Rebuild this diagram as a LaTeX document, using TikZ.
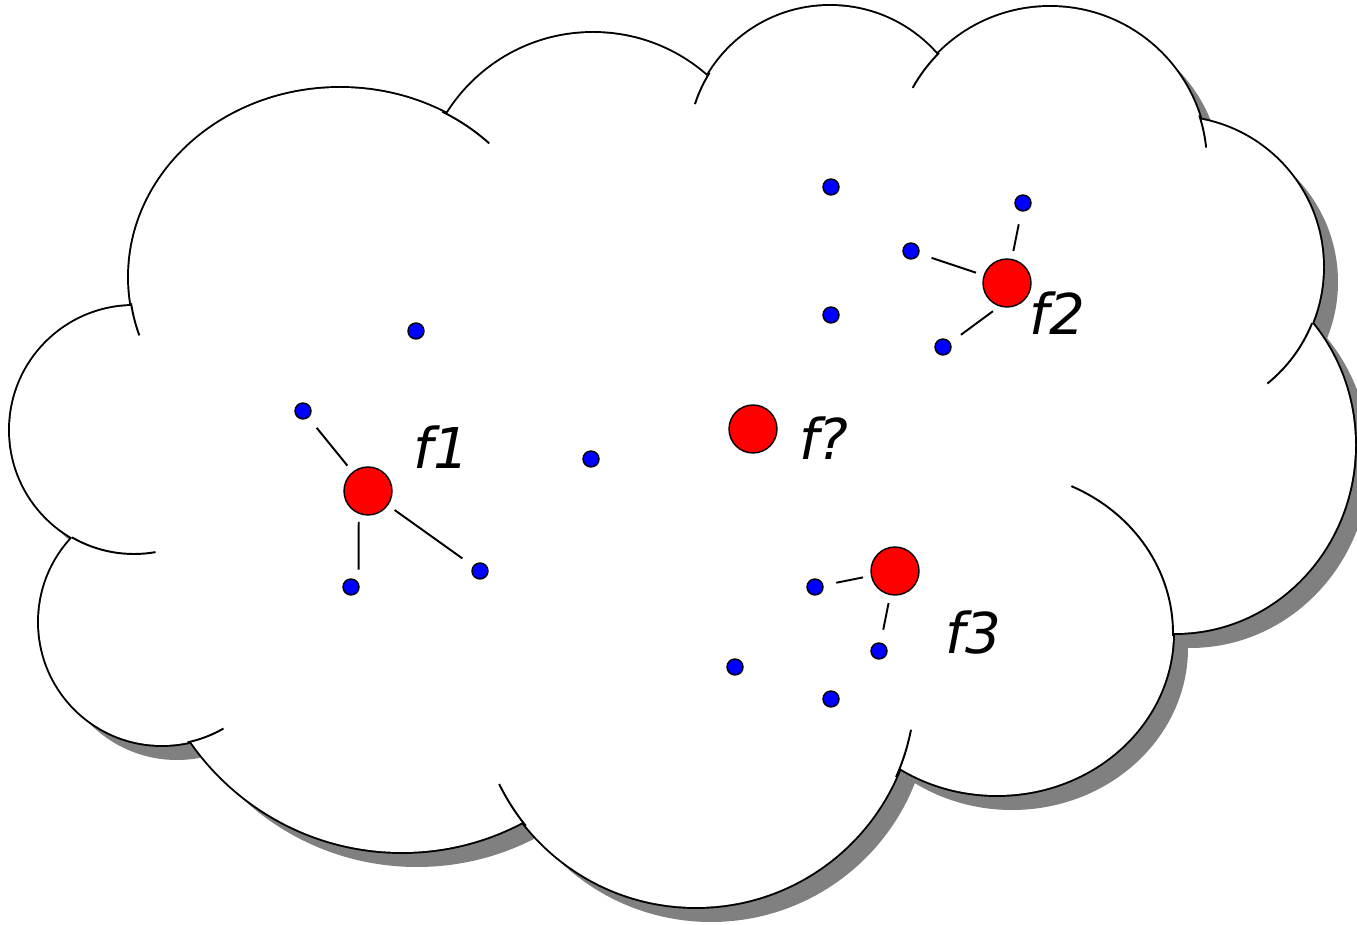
\documentclass[tikz,border=0pt]{standalone}
\usepackage{fontspec}
\setmainfont{DejaVu Sans}

% bumps of the cloud: centre x / centre y / x radius / y radius
\newcommand{\bumps}{134/430/124/124, 340/277/211/189, 593/205/172/172,
  830/148/142/142, 1050/164/157/157, 1173/267/150/150, 1175/445/180/188,
  997/633/176/162, 696/688/219/219, 402/595/257/257, 162/622/123/123}

\begin{document}
\begin{tikzpicture}[x=0.02cm, y=-0.02cm,
    hub/.style = {draw, circle, fill=red, line width=0.8pt, minimum size=0.96cm, inner sep=0pt},
    site/.style = {draw, circle, fill=blue, line width=0.8pt, minimum size=0.32cm, inner sep=0pt},
    lbl/.style = {inner sep=0pt, font=\fontsize{32}{38}\selectfont\itshape},
    link/.style = {line width=1.1pt, shorten <=0.16cm, shorten >=0.26cm}]
    \useasboundingbox (0,0) rectangle (1357,925);

    % shadow
    \begin{scope}[shift={(15,15)}]
        \foreach \cx/\cy/\rx/\ry in \bumps
            \fill[black!50] (\cx,\cy) ellipse[x radius=\rx, y radius=\ry];
        \fill[black!50] (134,430) -- (340,277) -- (593,205) -- (830,148) -- (1050,164) -- (1173,267)
            -- (1175,445) -- (997,633) -- (696,688) -- (402,595) -- (162,622) -- cycle;
    \end{scope}

    % outline (inner half is painted over by the body)
    \foreach \cx/\cy/\rx/\ry in \bumps
        \draw[line width=2.2pt] (\cx,\cy) ellipse[x radius=\rx, y radius=\ry];

    % body
    \foreach \cx/\cy/\rx/\ry in \bumps
        \fill[white] (\cx,\cy) ellipse[x radius=\rx, y radius=\ry];
    \fill[white] (134,430) -- (340,277) -- (593,205) -- (830,148) -- (1050,164) -- (1173,267)
        -- (1175,445) -- (997,633) -- (696,688) -- (402,595) -- (162,622) -- cycle;

    % inner creases
    \foreach \cx/\cy/\rx/\ry/\s/\e in {134/430/124/124/80/120, 340/277/211/189/162/172,
        340/277/211/189/-61/-45, 830/148/142/142/-162/-148, 1050/164/157/157/-151/-135,
        1050/164/157/157/-18/-6, 1173/267/150/150/22/51, 997/633/176/162/-65/1,
        696/688/219/219/11/24, 696/688/219/219/141/154, 162/622/123/123/60/78}
        \draw[line width=1.1pt] (\cx,\cy) ++({\rx*cos(\s)},{\ry*sin(\s)})
            arc[start angle=\s, end angle=\e, x radius=\rx, y radius=\ry];

    % points
    \node[site] (p1) at (416,331) {};
    \node[site] (p2) at (303,411) {};
    \node[site] (p3) at (591,459) {};
    \node[site] (p4) at (351,587) {};
    \node[site] (p5) at (480,571) {};
    \node[site] (p6) at (831,187) {};
    \node[site] (p7) at (1023,203) {};
    \node[site] (p8) at (911,251) {};
    \node[site] (p9) at (831,315) {};
    \node[site] (p10) at (943,347) {};
    \node[site] (p11) at (815,587) {};
    \node[site] (p12) at (879,651) {};
    \node[site] (p13) at (735,667) {};
    \node[site] (p14) at (831,699) {};

    % centres
    \node[hub] (f1) at (368,491) {};
    \node[hub] (f2) at (1007,283) {};
    \node[hub] (fq) at (753,429) {};
    \node[hub] (f3) at (895,571) {};

    \node[lbl] at (441,447) {f1};
    \node[lbl] at (1057,313) {f2};
    \node[lbl] at (824,438) {f?};
    \node[lbl] at (973,633) {f3};

    \foreach \a/\b in {f1/p2, f1/p5, f2/p7, f2/p8, f3/p11, f3/p12}
        \draw[link] (\a) -- (\b);
    \draw[link] (f1.-112) -- (p4.30);
    \draw[link] (f2.-108) -- (p10.31);
\end{tikzpicture}
\end{document}
